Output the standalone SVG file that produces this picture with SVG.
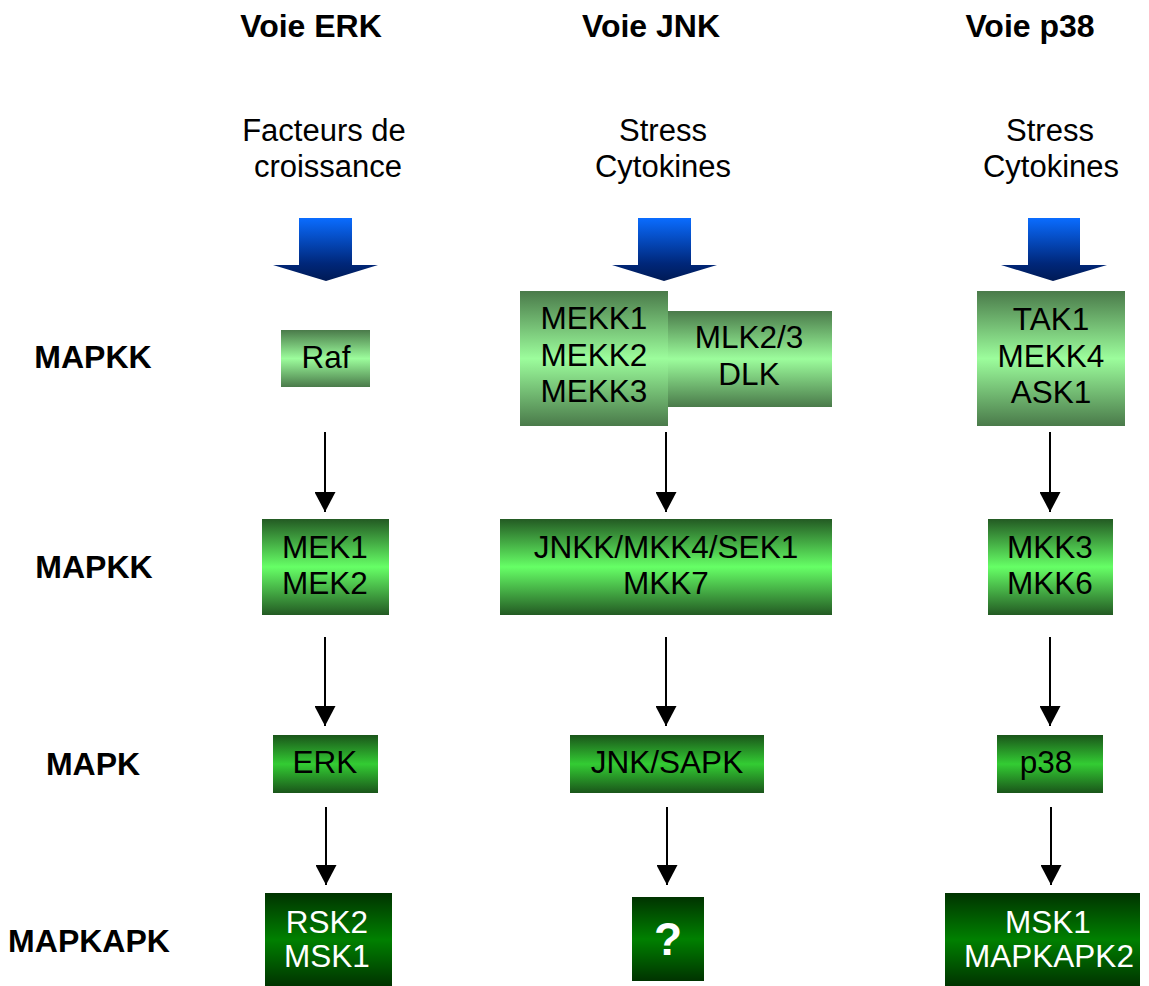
<svg xmlns="http://www.w3.org/2000/svg" width="1149" height="986" viewBox="0 0 1149 986">
<defs>
<linearGradient id="gBlue" x1="0" y1="0" x2="0" y2="1">
<stop offset="0" stop-color="#0a6cff"/>
<stop offset="0.72" stop-color="#00277a"/>
<stop offset="1" stop-color="#001a55"/>
</linearGradient>
<linearGradient id="g1" x1="0" y1="0" x2="0" y2="1">
<stop offset="0" stop-color="#4a7a4a"/>
<stop offset="0.5" stop-color="#9cfd9c"/>
<stop offset="1" stop-color="#4a7a4a"/>
</linearGradient>
<linearGradient id="g2" x1="0" y1="0" x2="0" y2="1">
<stop offset="0" stop-color="#235a23"/>
<stop offset="0.5" stop-color="#66ff66"/>
<stop offset="1" stop-color="#235a23"/>
</linearGradient>
<linearGradient id="g3" x1="0" y1="0" x2="0" y2="1">
<stop offset="0" stop-color="#1a551a"/>
<stop offset="0.5" stop-color="#33cc33"/>
<stop offset="1" stop-color="#1a551a"/>
</linearGradient>
<linearGradient id="g4" x1="0" y1="0" x2="0" y2="1">
<stop offset="0" stop-color="#003300"/>
<stop offset="0.5" stop-color="#008000"/>
<stop offset="1" stop-color="#003300"/>
</linearGradient>
<marker id="ah" viewBox="0 0 20 21" refX="20" refY="10.5" markerWidth="20" markerHeight="21" markerUnits="userSpaceOnUse" orient="auto">
<path d="M0,0 L20,10.5 L0,21 Z" fill="#000"/>
</marker>
</defs>
<style>
text{font-family:"Liberation Sans",Arial,sans-serif;text-anchor:middle}
.hd{font-size:32px;font-weight:bold}
.lb{font-size:32px;font-weight:bold}
.src{font-size:31px}
.n{font-size:31.5px;fill:#000}
.w{font-size:31.5px;fill:#fff}
.q{font-size:46px;font-weight:bold;fill:#fff}
.con line{stroke:#000;stroke-width:2;marker-end:url(#ah)}
</style>
<rect width="1149" height="986" fill="#fff"/>

<g id="headers">
<text class="hd" x="311" y="37">Voie ERK</text>
<text class="hd" x="651" y="37">Voie JNK</text>
<text class="hd" x="1030" y="37">Voie p38</text>
</g>
<g id="levels">
<text class="lb" x="93" y="368">MAPKK</text>
<text class="lb" x="94" y="578">MAPKK</text>
<text class="lb" x="93" y="775">MAPK</text>
<text class="lb" x="89" y="952">MAPKAPK</text>
</g>
<g id="stimuli">
<text class="src" x="324" y="141">Facteurs de</text>
<text class="src" x="328" y="177">croissance</text>
<text class="src" x="663" y="141">Stress</text>
<text class="src" x="663" y="177">Cytokines</text>
<text class="src" x="1050" y="141">Stress</text>
<text class="src" x="1051" y="177">Cytokines</text>
</g>
<g id="bigArrows" fill="url(#gBlue)">
<path d="M299,218 H352 V265 H378 L326,281 L273,265 H299 Z"/>
<path d="M638,218 H691 V265 H717 L664,281 L612,265 H638 Z"/>
<path d="M1028,218 H1080 V265 H1107 L1053,281 L1001,265 H1028 Z"/>
</g>

<g id="connectors" class="con">
<line x1="325" y1="432" x2="325" y2="512"/>
<line x1="666" y1="432" x2="666" y2="512"/>
<line x1="1050" y1="432" x2="1050" y2="512"/>
<line x1="325" y1="637" x2="325" y2="726"/>
<line x1="666" y1="637" x2="666" y2="726"/>
<line x1="1050" y1="637" x2="1050" y2="726"/>
<line x1="326" y1="807" x2="326" y2="885"/>
<line x1="667" y1="807" x2="667" y2="885"/>
<line x1="1051" y1="807" x2="1051" y2="885"/>
</g>

<g id="Raf">
<rect x="281" y="330" width="89" height="57" fill="url(#g1)"/>
<text class="n" x="326" y="368">Raf</text>
</g>
<g id="MEKK">
<rect x="520" y="291" width="148" height="135" fill="url(#g1)"/>
<text class="n" x="594" y="329">MEKK1</text>
<text class="n" x="594" y="366">MEKK2</text>
<text class="n" x="594" y="402">MEKK3</text>
</g>
<g id="MLK">
<rect x="668" y="311" width="164" height="96" fill="url(#g1)"/>
<text class="n" x="749" y="348">MLK2/3</text>
<text class="n" x="749" y="385">DLK</text>
</g>
<g id="TAK">
<rect x="977" y="291" width="148" height="135" fill="url(#g1)"/>
<text class="n" x="1051" y="330">TAK1</text>
<text class="n" x="1051" y="367">MEKK4</text>
<text class="n" x="1051" y="403">ASK1</text>
</g>

<g id="MEK">
<rect x="262" y="519" width="127" height="96" fill="url(#g2)"/>
<text class="n" x="325" y="558">MEK1</text>
<text class="n" x="325" y="594">MEK2</text>
</g>
<g id="JNKK">
<rect x="500" y="519" width="332" height="96" fill="url(#g2)"/>
<text class="n" x="666" y="558">JNKK/MKK4/SEK1</text>
<text class="n" x="666" y="594">MKK7</text>
</g>
<g id="MKK3">
<rect x="988" y="519" width="125" height="96" fill="url(#g2)"/>
<text class="n" x="1050" y="558">MKK3</text>
<text class="n" x="1050" y="594">MKK6</text>
</g>

<g id="ERK">
<rect x="273" y="735" width="105" height="58" fill="url(#g3)"/>
<text class="n" x="325" y="773">ERK</text>
</g>
<g id="JNK">
<rect x="570" y="735" width="194" height="58" fill="url(#g3)"/>
<text class="n" x="667" y="773">JNK/SAPK</text>
</g>
<g id="p38">
<rect x="997" y="735" width="106" height="58" fill="url(#g3)"/>
<text class="n" x="1046" y="773">p38</text>
</g>

<g id="RSK">
<rect x="265" y="893" width="127" height="93" fill="url(#g4)"/>
<text class="w" x="327" y="933">RSK2</text>
<text class="w" x="327" y="967">MSK1</text>
</g>
<g id="Q">
<rect x="632" y="897" width="72" height="84" fill="url(#g4)"/>
<text class="q" x="668" y="955">?</text>
</g>
<g id="MSK">
<rect x="945" y="893" width="195" height="93" fill="url(#g4)"/>
<text class="w" x="1048" y="933">MSK1</text>
<text class="w" x="1049" y="967">MAPKAPK2</text>
</g>
</svg>
